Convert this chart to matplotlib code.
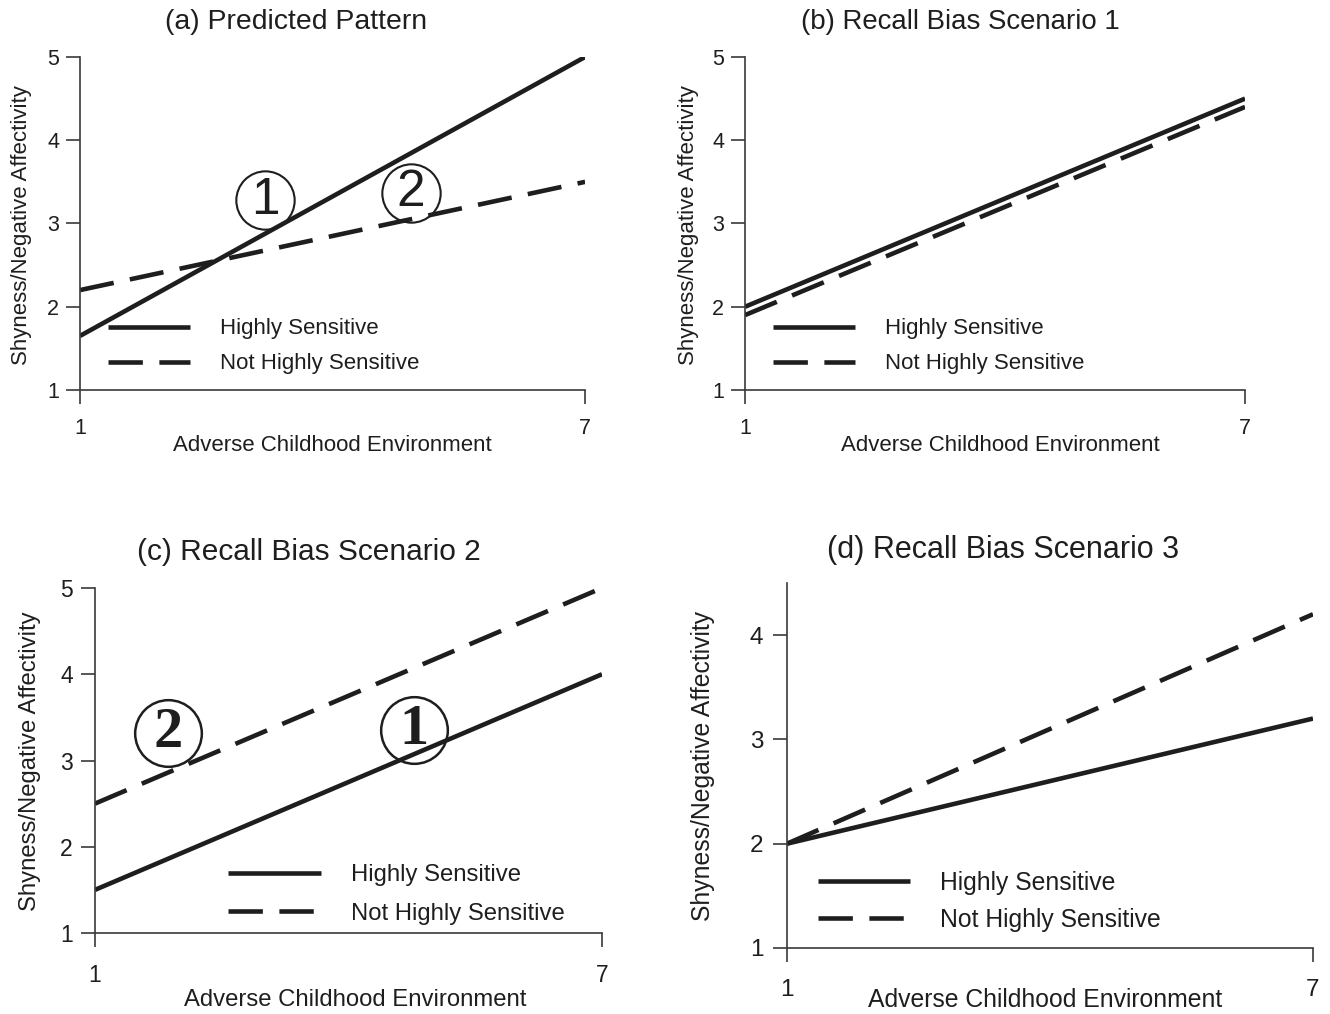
import matplotlib
matplotlib.use("Agg")
import matplotlib.pyplot as plt

plt.rcParams['font.family'] = ['Liberation Sans', 'DejaVu Sans']

# adverse childhood environment, ends of each line
x_ends = [1, 7]

titles = ['(a) Predicted Pattern', '(b) Recall Bias Scenario 1',
          '(c) Recall Bias Scenario 2', '(d) Recall Bias Scenario 3']
series_names = ['Highly Sensitive', 'Not Highly Sensitive']

a_highly = [1.65, 5.0]
a_not = [2.2, 3.5]
b_highly = [2.0, 4.5]
b_not = [1.9, 4.4]
c_highly = [1.5, 4.0]
c_not = [2.5, 5.0]
d_highly = [2.0, 3.2]
d_not = [2.0, 4.2]

# circled numbers: (label, x, y)
a_marks = [('1', 3.20, 3.28), ('2', 4.93, 3.37)]
c_marks = [('2', 1.86, 3.32), ('1', 4.78, 3.35)]

ink = '#1e1e1e'

fig = plt.figure(figsize=(13.3, 10.14), dpi=100)

# per panel layout: axes rect, ylim, yticks, font size, title pos/size,
# legend anchor, handle length, label positions
panels = [
    dict(rect=[0.0602, 0.6154, 0.3797, 0.3284], ylim=(1, 5), yt=[1, 2, 3, 4, 5],
         fs=16, tfs=15.5, title_xy=(0.2226, 0.9783), title_fs=20.4,
         leg=(0.055, 0.131), hl=3.7, htp=1.35, ls=0.63,
         xl=(0.5, -0.168), yl=(-0.115, 0.495), ypad=5, xpad=10.5),
    dict(rect=[0.5602, 0.6154, 0.3759, 0.3284], ylim=(1, 5), yt=[1, 2, 3, 4, 5],
         fs=16, tfs=15.5, title_xy=(0.7218, 0.9783), title_fs=19.9,
         leg=(0.056, 0.131), hl=3.7, htp=1.35, ls=0.63,
         xl=(0.51, -0.168), yl=(-0.114, 0.495), ypad=5, xpad=10.5),
    dict(rect=[0.0714, 0.0799, 0.3812, 0.3402], ylim=(1, 5), yt=[1, 2, 3, 4, 5],
         fs=17.2, tfs=16.5, title_xy=(0.2320, 0.4556), title_fs=21.5,
         leg=(0.262, 0.112), hl=3.9, htp=1.25, ls=0.7,
         xl=(0.513, -0.194), yl=(-0.128, 0.499), ypad=6, xpad=12),
    dict(rect=[0.5917, 0.0651, 0.3955, 0.3600], ylim=(1, 4.5), yt=[1, 2, 3, 4],
         fs=17.8, tfs=17.5, title_xy=(0.7541, 0.4576), title_fs=22,
         leg=(0.059, 0.1285), hl=3.72, htp=1.21, ls=0.52,
         xl=(0.49, -0.142), yl=(-0.16, 0.50), ypad=7, xpad=12),
]

data = [(a_highly, a_not), (b_highly, b_not), (c_highly, c_not), (d_highly, d_not)]
marks = [a_marks, [], c_marks, []]

for i, p in enumerate(panels):
    ax = fig.add_axes(p['rect'])
    highly, not_highly = data[i]
    ax.plot(x_ends, highly, color=ink, lw=3.3, solid_capstyle='butt',
            label=series_names[0])
    ax.plot(x_ends, not_highly, color=ink, lw=3.3, linestyle=(0, (7.5, 3.6)),
            dash_capstyle='butt', label=series_names[1])

    ax.set_xlim(1, 7)
    ax.set_ylim(*p['ylim'])
    ax.set_xticks(x_ends)
    ax.set_yticks(p['yt'])
    for s in ['top', 'right']:
        ax.spines[s].set_visible(False)
    for s in ['left', 'bottom']:
        ax.spines[s].set_linewidth(1.2)
        ax.spines[s].set_color('#3a3a3a')
    ax.tick_params(axis='both', direction='out', length=10, width=1.2,
                   color='#3a3a3a', labelsize=p['tfs'], labelcolor=ink)
    ax.tick_params(axis='y', pad=p['ypad'])
    ax.tick_params(axis='x', pad=p['xpad'])

    ax.set_xlabel('Adverse Childhood Environment', fontsize=p['fs'],
                  color=ink, va='center')
    ax.xaxis.set_label_coords(*p['xl'])
    ax.set_ylabel('Shyness/Negative Affectivity', fontsize=p['fs'],
                  color=ink, va='center')
    ax.yaxis.set_label_coords(*p['yl'])

    fig.text(p['title_xy'][0], p['title_xy'][1], titles[i], fontsize=p['title_fs'],
             color=ink, ha='center', va='center')

    ax.legend(loc='center left', bbox_to_anchor=p['leg'], frameon=False,
              fontsize=p['fs'], handlelength=p['hl'], handletextpad=p['htp'],
              labelspacing=p['ls'], borderpad=0, borderaxespad=0,
              labelcolor=ink)

    for label, mx, my in marks[i]:
        if i == 0:
            ax.plot(mx, my, marker='o', ms=42, mfc='none', mec=ink, mew=1.5)
            ax.text(mx, my, label, fontsize=37, ha='center', va='center',
                    color=ink)
        else:
            ax.plot(mx, my, marker='o', ms=48, mfc='none', mec=ink, mew=1.8)
            ax.text(mx, my, label, fontsize=42, ha='center', va='center',
                    color=ink, family='Liberation Serif', weight='bold')

fig.savefig('out.png', dpi=100)
